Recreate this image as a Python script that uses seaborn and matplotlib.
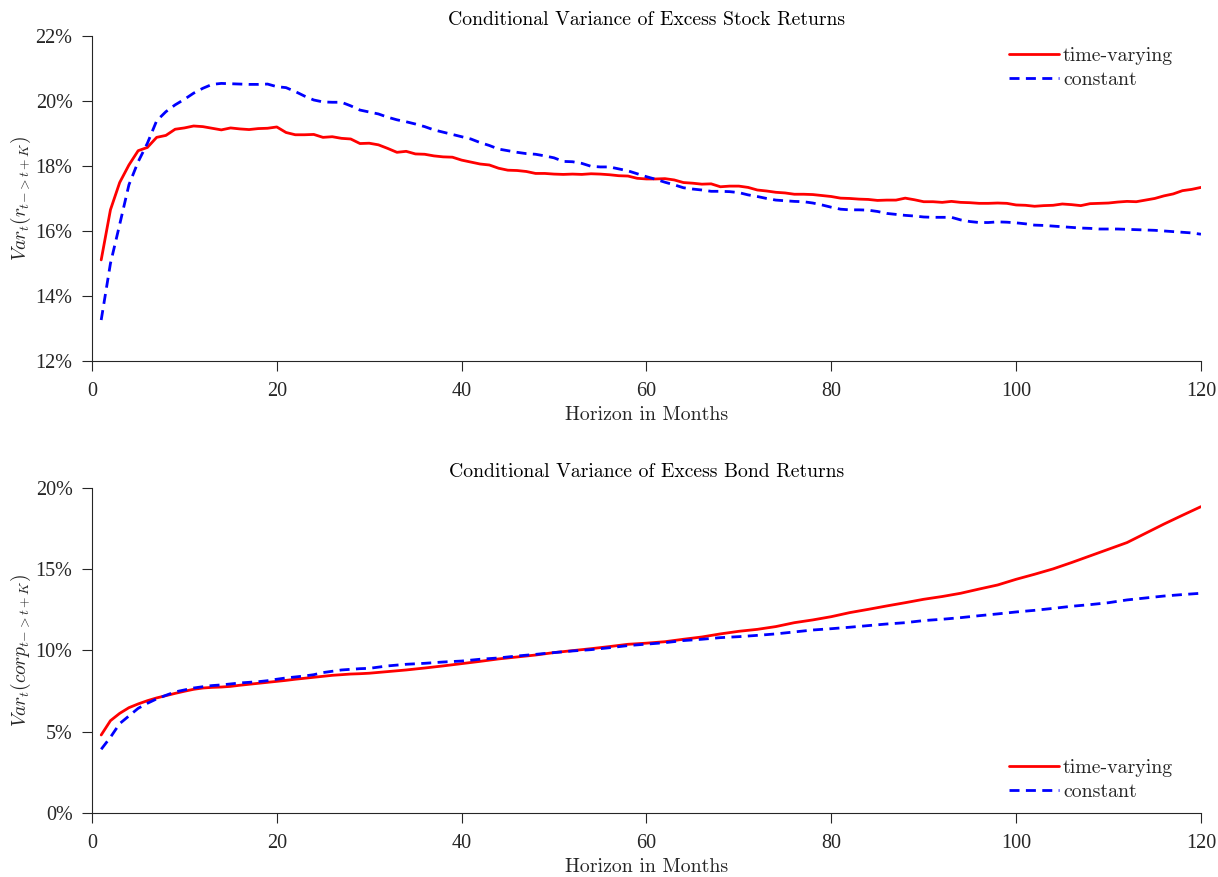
import numpy as np
import pandas as pd
import matplotlib
matplotlib.use('Agg')
import matplotlib.pyplot as plt
from matplotlib.ticker import FuncFormatter
import seaborn as sns

# stock panel: monthly horizons 1..120, values in percent
stock_months = np.arange(1, 121)
stock_tv = [15.11, 16.65, 17.49, 18.03, 18.47, 18.57, 18.88, 18.94, 19.13, 19.17,
            19.23, 19.21, 19.16, 19.11, 19.17, 19.14, 19.12, 19.15, 19.16, 19.20,
            19.03, 18.96, 18.96, 18.97, 18.88, 18.90, 18.85, 18.83, 18.69, 18.70,
            18.65, 18.54, 18.42, 18.45, 18.37, 18.36, 18.31, 18.28, 18.27, 18.18,
            18.12, 18.06, 18.03, 17.93, 17.87, 17.86, 17.83, 17.77, 17.77, 17.75,
            17.74, 17.75, 17.74, 17.76, 17.75, 17.73, 17.70, 17.69, 17.62, 17.60,
            17.60, 17.61, 17.57, 17.49, 17.47, 17.44, 17.45, 17.36, 17.38, 17.38,
            17.34, 17.26, 17.23, 17.19, 17.17, 17.13, 17.13, 17.12, 17.09, 17.06,
            17.01, 17.00, 16.98, 16.97, 16.94, 16.95, 16.95, 17.01, 16.96, 16.90,
            16.90, 16.88, 16.91, 16.88, 16.87, 16.85, 16.85, 16.86, 16.85, 16.80,
            16.79, 16.76, 16.78, 16.79, 16.83, 16.81, 16.78, 16.84, 16.85, 16.86,
            16.89, 16.91, 16.90, 16.95, 17.00, 17.08, 17.14, 17.24, 17.28, 17.34]
stock_const = [13.26, 15.00, 16.20, 17.42, 18.13, 18.70, 19.39, 19.67, 19.88, 20.05,
               20.24, 20.39, 20.51, 20.54, 20.53, 20.52, 20.51, 20.51, 20.52, 20.44,
               20.41, 20.29, 20.15, 20.03, 19.97, 19.96, 19.96, 19.85, 19.72, 19.66,
               19.60, 19.50, 19.42, 19.36, 19.29, 19.21, 19.11, 19.04, 18.97, 18.90,
               18.83, 18.72, 18.63, 18.52, 18.47, 18.42, 18.38, 18.36, 18.31, 18.25,
               18.14, 18.13, 18.08, 17.99, 17.97, 17.97, 17.91, 17.85, 17.76, 17.67,
               17.59, 17.50, 17.42, 17.33, 17.29, 17.26, 17.22, 17.22, 17.21, 17.18,
               17.11, 17.06, 17.00, 16.95, 16.93, 16.91, 16.90, 16.86, 16.80, 16.73,
               16.67, 16.65, 16.65, 16.64, 16.60, 16.54, 16.51, 16.48, 16.46, 16.43,
               16.42, 16.42, 16.42, 16.34, 16.29, 16.26, 16.26, 16.28, 16.27, 16.25,
               16.22, 16.18, 16.17, 16.15, 16.13, 16.11, 16.09, 16.08, 16.06, 16.06,
               16.06, 16.05, 16.04, 16.03, 16.02, 16.00, 15.98, 15.96, 15.94, 15.90]

# bond panel: read monthly up to 30, then every other month
bond_months = list(range(1, 31)) + list(range(32, 121, 2))
bond_tv = [4.80, 5.68, 6.13, 6.48, 6.71, 6.91, 7.08, 7.22, 7.36, 7.49,
           7.61, 7.69, 7.73, 7.75, 7.79, 7.86, 7.92, 7.98, 8.04, 8.10,
           8.16, 8.23, 8.29, 8.35, 8.41, 8.47, 8.51, 8.55, 8.57, 8.60,
           8.70, 8.80, 8.92, 9.05, 9.19, 9.33, 9.48, 9.60, 9.72, 9.87,
           9.99, 10.11, 10.24, 10.38, 10.45,
           10.54, 10.69, 10.83, 11.02, 11.18, 11.30, 11.47, 11.71, 11.88, 12.08,
           12.33, 12.53, 12.74, 12.94, 13.15,
           13.32, 13.52, 13.78, 14.03, 14.38, 14.69, 15.02, 15.41, 15.82, 16.23,
           16.64, 17.21, 17.78, 18.32, 18.85]
bond_const = [3.92, 4.66, 5.50, 5.97, 6.44, 6.75, 7.02, 7.24, 7.45, 7.57,
              7.69, 7.77, 7.84, 7.88, 7.94, 8.00, 8.04, 8.08, 8.14, 8.23,
              8.31, 8.37, 8.43, 8.51, 8.64, 8.72, 8.80, 8.84, 8.88, 8.90,
              9.05, 9.15, 9.21, 9.29, 9.35, 9.46, 9.54, 9.66, 9.76, 9.87,
              9.97, 10.05, 10.17, 10.30, 10.39,
              10.48, 10.61, 10.69, 10.79, 10.85, 10.93, 11.02, 11.14, 11.26, 11.34,
              11.43, 11.53, 11.63, 11.71, 11.84,
              11.92, 12.02, 12.14, 12.25, 12.37, 12.47, 12.59, 12.72, 12.82, 12.94,
              13.11, 13.23, 13.35, 13.44, 13.52]

series_names = ['time-varying', 'constant']

sns.set_style('ticks')
plt.rcParams['font.family'] = ['Liberation Serif', 'DejaVu Serif']
plt.rcParams['mathtext.fontset'] = 'cm'
plt.rcParams['axes.unicode_minus'] = False

ink = '#262626'
cm_font = ['cmr10', 'DejaVu Serif']
palette = {'time-varying': '#ff0000', 'constant': '#0000ff'}
dashes = {'time-varying': '', 'constant': (3.6, 2.3)}


def long_df(months, tv, const):
    return pd.concat([
        pd.DataFrame({'month': months, 'value': tv, 'series': series_names[0]}),
        pd.DataFrame({'month': months, 'value': const, 'series': series_names[1]}),
    ])


fig = plt.figure(figsize=(12.18, 8.77), dpi=100)
ax1 = fig.add_axes([0.0755, 0.5884, 0.9105, 0.3706])
ax2 = fig.add_axes([0.0755, 0.0730, 0.9105, 0.3706])

panels = [
    (ax1, long_df(stock_months, stock_tv, stock_const), 'Conditional Variance of Excess Stock Returns',
     r'$Var_t(r_{t\!-\!>t+K})$', (12, 22), [12, 14, 16, 18, 20, 22], 'upper right', (0.975, 0.965)),
    (ax2, long_df(bond_months, bond_tv, bond_const), 'Conditional Variance of Excess Bond Returns',
     r'$Var_t(corp_{t\!-\!>t+K})$', (0, 20), [0, 5, 10, 15, 20], 'lower right', (0.975, 0.037)),
]

for ax, df, title, ylab, ylim, yticks, loc, anchor in panels:
    sns.lineplot(data=df, x='month', y='value', hue='series', style='series',
                 palette=palette, dashes=dashes, linewidth=2, ax=ax)
    ax.set_xlim(0, 120)
    ax.set_ylim(*ylim)
    ax.set_xticks([0, 20, 40, 60, 80, 100, 120])
    ax.set_yticks(yticks)
    ax.yaxis.set_major_formatter(FuncFormatter(lambda v, p: f'{v:.0f}%'))
    ax.tick_params(direction='out', length=7, width=0.8, colors=ink, labelsize=14.5)
    ax.tick_params(axis='x', pad=8)
    ax.tick_params(axis='y', pad=7)
    for s in ['left', 'bottom']:
        ax.spines[s].set_color(ink)
        ax.spines[s].set_linewidth(0.8)
    sns.despine(ax=ax)
    ax.set_title(title, fontsize=14.2, family=cm_font, color='black', pad=8)
    ax.set_xlabel('Horizon in Months', fontsize=14.3, family=cm_font, color=ink, labelpad=4)
    ax.set_ylabel(ylab, fontsize=14, color=ink, labelpad=2)
    leg = ax.legend(loc=loc, bbox_to_anchor=anchor, frameon=False,
                    prop={'family': cm_font, 'size': 14.3},
                    handlelength=2.5, handletextpad=0.2, labelspacing=0.3,
                    borderaxespad=0, borderpad=0)
    for line in leg.get_lines():
        line.set_linewidth(2)

fig.savefig('out.png', dpi=100)
